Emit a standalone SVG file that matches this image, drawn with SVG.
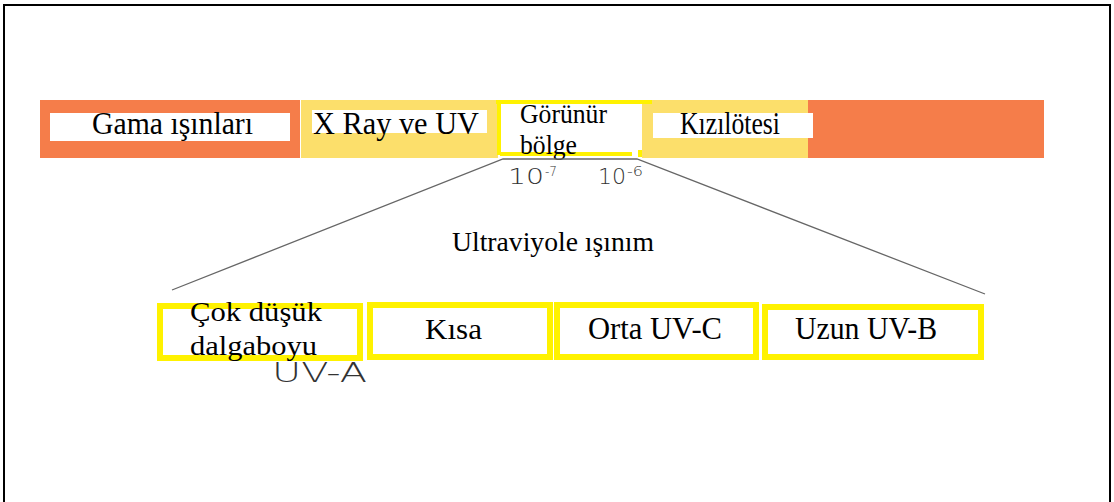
<svg xmlns="http://www.w3.org/2000/svg" width="1114" height="502" viewBox="0 0 1114 502">
<style>
.serif{font-family:"Liberation Serif","Times New Roman",serif;fill:#000;}
.sans{font-family:"DejaVu Sans","Liberation Sans",sans-serif;fill:#333;font-weight:300;}
.uvbox{fill:#fff;stroke:#FFF200;stroke-width:6;}
.conn{fill:none;stroke:#666;stroke-width:1.3;}
</style>
<rect width="1114" height="502" fill="#fff"/>
<path d="M4,502 V5 H1110 V502" fill="none" stroke="#000" stroke-width="2"/>
<g id="spectrum-bar">
<rect x="40" y="100" width="260" height="58" fill="#F57D4A"/>
<rect x="301" y="100" width="197" height="58" fill="#FCDF6B"/>
<rect x="642" y="100" width="166" height="58" fill="#FCDF6B"/>
<rect x="808" y="100" width="236" height="58" fill="#F57D4A"/>
</g>
<g id="node-gama">
<rect x="50" y="113" width="240" height="28" fill="#fff"/>
<text class="serif" x="92" y="134" font-size="31" textLength="161" lengthAdjust="spacingAndGlyphs">Gama ışınları</text>
</g>
<g id="node-xray">
<rect x="312" y="110" width="175" height="23" fill="#fff"/>
<text class="serif" x="313" y="134" font-size="31" textLength="166" lengthAdjust="spacingAndGlyphs">X Ray ve UV</text>
</g>
<g id="node-gorunur">
<rect x="500" y="102" width="142" height="55" fill="#fff"/>
<path d="M496,102 H652 M499,100 V155 M500,154 H632 M640,150 V157" fill="none" stroke="#FFF200" stroke-width="4"/>
<text class="serif" x="520" y="123" font-size="28" textLength="87" lengthAdjust="spacingAndGlyphs">Görünür</text>
<text class="serif" x="520" y="154" font-size="28" textLength="57" lengthAdjust="spacingAndGlyphs">bölge</text>
</g>
<g id="node-kizilotesi">
<rect x="653" y="113" width="160" height="25" fill="#fff"/>
<text class="serif" x="680" y="134" font-size="31" textLength="100" lengthAdjust="spacingAndGlyphs">Kızılötesi</text>
</g>
<g id="connectors">
<path class="conn" d="M172,290 L503,159 H637 L985,294"/>
</g>
<g id="scale-labels">
<text class="sans" x="508" y="184" font-size="21" textLength="36" lengthAdjust="spacingAndGlyphs">10</text>
<text class="sans" x="545" y="176" font-size="14" textLength="12" lengthAdjust="spacingAndGlyphs">-7</text>
<text class="sans" x="598" y="184" font-size="21" textLength="28" lengthAdjust="spacingAndGlyphs">10</text>
<text class="sans" x="627" y="176" font-size="14" textLength="16" lengthAdjust="spacingAndGlyphs">-6</text>
</g>
<g id="title">
<text class="serif" x="452" y="251" font-size="28" textLength="202" lengthAdjust="spacingAndGlyphs">Ultraviyole ışınım</text>
</g>
<g id="label-uva">
<text class="sans" x="272" y="382" font-size="27" textLength="95" lengthAdjust="spacingAndGlyphs">UV-A</text>
</g>
<g id="node-cok">
<rect class="uvbox" x="160" y="306" width="200" height="52"/>
<text class="serif" x="190" y="321" font-size="28" textLength="132" lengthAdjust="spacingAndGlyphs">Çok düşük</text>
<text class="serif" x="190" y="355" font-size="28" textLength="127" lengthAdjust="spacingAndGlyphs">dalgaboyu</text>
</g>
<g id="node-kisa">
<rect class="uvbox" x="370" y="305" width="180" height="52"/>
<text class="serif" x="425" y="339" font-size="30" textLength="57" lengthAdjust="spacingAndGlyphs">Kısa</text>
</g>
<g id="node-orta">
<rect class="uvbox" x="557" y="305" width="199" height="52"/>
<text class="serif" x="588" y="339" font-size="31" textLength="134" lengthAdjust="spacingAndGlyphs">Orta UV-C</text>
</g>
<g id="node-uzun">
<rect class="uvbox" x="765" y="307" width="216" height="50"/>
<text class="serif" x="795" y="339" font-size="31" textLength="142" lengthAdjust="spacingAndGlyphs">Uzun UV-B</text>
</g>
</svg>
